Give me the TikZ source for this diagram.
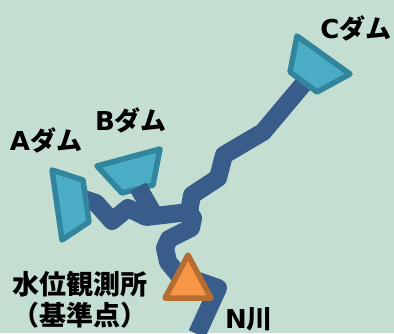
\documentclass[tikz,border=0pt]{standalone}
\usepackage{fontspec}
\setmainfont{DejaVu Sans}
\newfontfamily\jpfont{Noto Sans CJK JP Bold}
\definecolor{bgc}{HTML}{C4DFD1}
\definecolor{riverc}{HTML}{385D8A}
\definecolor{damfill}{HTML}{4BACC6}
\definecolor{damline}{HTML}{31859C}
\definecolor{trifill}{HTML}{F79646}
\definecolor{triline}{HTML}{B66D31}
\tikzset{
  river/.style={draw=riverc,line width=18pt,line join=round},
  dam/.style={draw=damline,fill=damfill,line width=5.5pt,line join=round},
  gauge/.style={draw=triline,fill=trifill,line width=5.5pt,line join=round},
  lab/.style={inner sep=0pt,font=\bfseries,text=black,align=center},
}
\newcommand{\dm}[1]{{\fontsize{26pt}{30pt}\selectfont\bfseries #1{\jpfont ダム}}}
\begin{document}
\begin{tikzpicture}[x=1pt,y=-1pt]
\fill[bgc] (0,0) rectangle (394,333);
\useasboundingbox (0,0) rectangle (394,333);
\draw[river] (197,334) -- (218,288) -- (178,274) -- (168,262) -- (165,248) -- (169,239) -- (191,228) -- (193,218) -- (189,212) -- (146,217) -- (128,208) -- (112,221) -- (96,203) -- (84,199);
\draw[river] (189,212) -- (192,195) -- (218,178) -- (224,155) -- (263,132) -- (305,82);
\draw[dam] (52,170) -- (83,180) -- (89,222) -- (62,240) -- cycle;
\draw[dam] (297,36) -- (350,74) -- (317,92) -- (290,72) -- cycle;
\draw[dam] (97,166) -- (160,149) -- (153,185) -- (122,193) -- cycle;
\draw[river] (153,213) -- (138,187);
\draw[gauge] (188,255) -- (211,298) -- (165,298) -- cycle;
\node[lab] (la) at (46,140) {\dm{A}};
\node[lab] (lb) at (131,120) {\dm{B}};
\node[lab] (lc) at (356,28) {\dm{C}};
\node[lab] (lg) at (80,284) {\fontsize{27pt}{30pt}\selectfont\jpfont 水位観測所};
\node[lab] (lk) at (80,315) {\fontsize{27pt}{30pt}\selectfont\jpfont （基準点）};
\node[lab] (ln) at (249,319) {\fontsize{26pt}{30pt}\selectfont\bfseries N{\jpfont 川}};
\end{tikzpicture}
\end{document}
